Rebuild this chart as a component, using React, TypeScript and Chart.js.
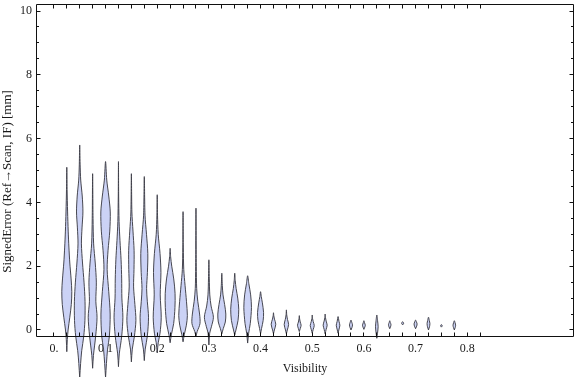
import React, { useEffect, useRef } from "react";
import { Chart, registerables } from "chart.js";

Chart.register(...registerables);

// Violin centres (Visibility)
const visibility = [
  0.025, 0.05, 0.075, 0.1, 0.125, 0.15, 0.175, 0.2, 0.225, 0.25, 0.275, 0.3,
  0.325, 0.35, 0.375, 0.4, 0.425, 0.45, 0.475, 0.5, 0.525, 0.55, 0.575, 0.6,
  0.625, 0.65, 0.675, 0.7, 0.725, 0.75, 0.775,
];

// Density profiles: [SignedError, relative density half-width], bottom -> top
const v025 = [[-0.68, 0], [-0.3, 0.5], [0, 1.3], [0.4, 3], [0.8, 4.5], [1.2, 5], [1.6, 4.3], [2.1, 3], [2.6, 2.1], [3.1, 1.4], [3.7, 0.8], [4.4, 0.3], [5.1, 0]];
const v050 = [[-1.5, 0], [-1.05, 0.9], [-0.65, 2], [-0.2, 4], [0.3, 5.2], [0.9, 5.3], [1.5, 4.3], [2.1, 2.8], [2.7, 1.7], [3.2, 2.3], [3.7, 3.2], [4.2, 2.5], [4.7, 1.0], [5.2, 0.4], [5.8, 0]];
const v075 = [[-1.2, 0], [-0.8, 0.8], [-0.2, 3], [0.4, 4.4], [0.9, 3.2], [1.5, 3.7], [2.1, 2.6], [2.7, 1.0], [3.5, 0.4], [4.9, 0]];
const v100 = [[-1.5, 0], [-1.05, 0.9], [-0.6, 2], [-0.2, 3.8], [0.5, 4.6], [1.2, 3.2], [1.9, 1.6], [2.5, 2.5], [3.1, 4.2], [3.7, 4.7], [4.2, 3.2], [4.7, 1.2], [5.28, 0]];
const v125 = [[-1.15, 0], [-0.75, 0.8], [-0.2, 3.2], [0.4, 4.4], [1.0, 3.4], [1.6, 3.2], [2.2, 2.6], [2.8, 1.5], [3.4, 0.6], [4.2, 0.2], [5.28, 0]];
const v150 = [[-1.0, 0], [-0.6, 0.9], [-0.2, 3], [0.3, 4.5], [0.8, 3.5], [1.35, 2.2], [1.9, 2.6], [2.5, 2.7], [3.1, 1.6], [3.7, 0.5], [4.9, 0]];
const v175 = [[-0.96, 0], [-0.6, 0.9], [-0.2, 3], [0.4, 4.2], [0.9, 3.0], [1.3, 2.3], [1.8, 3.1], [2.4, 3.5], [3.0, 2.2], [3.6, 0.7], [4.81, 0]];
const v200 = [[-0.72, 0], [-0.4, 1], [-0.1, 2.8], [0.4, 4.0], [1.1, 3.0], [1.8, 3.7], [2.4, 2.8], [3.0, 1.0], [3.6, 0.3], [4.24, 0]];
const v225 = [[-0.4, 0], [-0.15, 1.2], [0.2, 3.5], [0.7, 4.8], [1.15, 4.9], [1.6, 3.6], [2.0, 1.6], [2.3, 0.5], [2.56, 0]];
const v250 = [[-0.37, 0], [-0.15, 1.2], [0.15, 3.3], [0.45, 4.3], [0.9, 3.4], [1.4, 2], [1.9, 0.7], [2.6, 0.25], [3.71, 0]];
const v275 = [[-0.2, 0], [-0.05, 1.2], [0.2, 4.0], [0.5, 3.6], [0.9, 1.8], [1.3, 0.7], [2.0, 0.3], [3.82, 0]];
const v300 = [[-0.47, 0], [-0.1, 0.8], [0.1, 2.5], [0.4, 4.5], [0.75, 2.2], [1.1, 0.9], [1.6, 0.4], [2.2, 0]];
const v325 = [[-0.12, 0], [0.05, 1.5], [0.25, 3.5], [0.5, 4], [0.8, 2.8], [1.1, 1.2], [1.4, 0.5], [1.78, 0]];
const v350 = [[-0.16, 0], [0.0, 1.2], [0.3, 3.3], [0.65, 4], [1.0, 3], [1.3, 1.4], [1.55, 0.5], [1.78, 0]];
const v375 = [[-0.41, 0], [-0.1, 1], [0.2, 2.6], [0.7, 3.8], [1.1, 3.0], [1.45, 1.2], [1.7, 0]];
const v400 = [[-0.12, 0], [0.05, 1], [0.3, 2.6], [0.55, 3], [0.85, 1.8], [1.05, 0.7], [1.2, 0]];
const v425 = [[-0.12, 0], [0.0, 0.9], [0.18, 2.3], [0.34, 1.0], [0.45, 0.3], [0.54, 0]];
const v450 = [[-0.12, 0], [0.0, 0.9], [0.17, 2.2], [0.33, 1.1], [0.48, 0.3], [0.63, 0]];
const v475 = [[-0.05, 0], [0.05, 1], [0.15, 1.8], [0.25, 0.9], [0.35, 0.3], [0.45, 0]];
const v500 = [[-0.1, 0], [0.02, 1], [0.14, 2], [0.26, 1], [0.36, 0.3], [0.47, 0]];
const v525 = [[-0.12, 0], [0.02, 1], [0.15, 2], [0.28, 1], [0.39, 0.3], [0.5, 0]];
const v550 = [[-0.1, 0], [0.03, 1], [0.15, 1.8], [0.27, 0.9], [0.42, 0]];
const v575 = [[0.0, 0], [0.08, 1], [0.16, 1.5], [0.24, 0.8], [0.31, 0]];
const v600 = [[0.02, 0], [0.09, 0.9], [0.15, 1.4], [0.22, 0.7], [0.29, 0]];
const v625 = [[-0.26, 0], [-0.1, 0.7], [0.1, 1.3], [0.28, 0.8], [0.47, 0]];
const v650 = [[0.04, 0], [0.12, 1.0], [0.18, 1.2], [0.23, 0.6], [0.29, 0]];
const v675 = [[0.16, 0], [0.21, 1.0], [0.26, 0]];
const v700 = [[0.04, 0], [0.12, 1.1], [0.19, 1.5], [0.25, 0.9], [0.31, 0]];
const v725 = [[0.0, 0], [0.1, 1.0], [0.2, 1.4], [0.3, 0.8], [0.4, 0]];
const v750 = [[0.09, 0], [0.13, 0.8], [0.17, 0]];
const v775 = [[0.0, 0], [0.08, 0.9], [0.15, 1.3], [0.22, 0.8], [0.29, 0]];

const profiles = [
  v025, v050, v075, v100, v125, v150, v175, v200, v225, v250, v275, v300,
  v325, v350, v375, v400, v425, v450, v475, v500, v525, v550, v575, v600,
  v625, v650, v675, v700, v725, v750, v775,
];

// Axes
const xTickValues = [0, 0.1, 0.2, 0.3, 0.4, 0.5, 0.6, 0.7, 0.8];
const xTickLabels = ["0.", "0.1", "0.2", "0.3", "0.4", "0.5", "0.6", "0.7", "0.8"];
const xTickMarks = [
  0, 0.025, 0.05, 0.075, 0.1, 0.125, 0.15, 0.175, 0.2, 0.225, 0.25, 0.275, 0.3,
  0.325, 0.35, 0.375, 0.4, 0.425, 0.45, 0.475, 0.5, 0.525, 0.55, 0.575, 0.6,
  0.625, 0.65, 0.675, 0.7, 0.725, 0.75, 0.775, 0.8, 0.825,
];
const yTickValues = [0, 2, 4, 6, 8, 10];
const yTickLabels = ["0", "2", "4", "6", "8", "10"];
const yMinorTicks = [
  0.5, 1, 1.5, 2.5, 3, 3.5, 4.5, 5, 5.5, 6.5, 7, 7.5, 8.5, 9, 9.5,
];

const X_MIN = -0.0346;
const X_MAX = 1.0066;
const Y_MIN = -0.22;
const Y_MAX = 10.22;
const WIDTH_SCALE = 0.00194; // visibility units per density unit

const FONT = '"Liberation Serif", "Times New Roman", serif';
const TEXT = "#1a1a1a";
const FILL = "rgb(203,210,245)";
const EDGE = "rgba(62,62,72,0.95)";

function outline(cx: number, prof: number[][]) {
  const right = prof.map(([y, w]) => ({ x: cx + w * WIDTH_SCALE, y }));
  const left = prof
    .slice(0, -1)
    .reverse()
    .map(([y, w]) => ({ x: cx - w * WIDTH_SCALE, y }));
  return right.concat(left);
}

const violinFill = {
  id: "violinFill",
  beforeDatasetDraw(chart: any, args: any) {
    const line = args.meta && args.meta.dataset;
    if (!line || !line.points || !line.points.length) return;
    const ctx = chart.ctx;
    if (line.updateControlPoints) line.updateControlPoints(chart.chartArea, "x");
    ctx.save();
    ctx.beginPath();
    line.path(ctx);
    ctx.closePath();
    ctx.fillStyle = FILL;
    ctx.fill();
    ctx.restore();
  },
};

const framePlugin = {
  id: "frame",
  afterDatasetsDraw(chart: any) {
    const { ctx, chartArea, scales } = chart;
    const { left, right, top, bottom } = chartArea;
    const L = left + 0.5, R = right - 0.5, T = top + 0.5, B = bottom - 0.5;
    ctx.save();
    ctx.strokeStyle = "#111";
    ctx.lineWidth = 1;
    ctx.beginPath();
    ctx.rect(L, T, R - L, B - T);
    ctx.stroke();
    ctx.beginPath();
    for (const v of xTickMarks) {
      const px = Math.floor(scales.x.getPixelForValue(v)) + 0.5;
      ctx.moveTo(px, B);
      ctx.lineTo(px, B - 4);
      ctx.moveTo(px, T);
      ctx.lineTo(px, T + 4);
    }
    for (const v of yTickValues) {
      const py = Math.floor(scales.y.getPixelForValue(v)) + 0.5;
      ctx.moveTo(L, py);
      ctx.lineTo(L + 4, py);
      ctx.moveTo(R, py);
      ctx.lineTo(R - 4, py);
    }
    for (const v of yMinorTicks) {
      const py = Math.floor(scales.y.getPixelForValue(v)) + 0.5;
      ctx.moveTo(L, py);
      ctx.lineTo(L + 2.5, py);
      ctx.moveTo(R, py);
      ctx.lineTo(R - 2.5, py);
    }
    ctx.stroke();
    ctx.restore();
  },
  afterDraw(chart: any) {
    const ctx = chart.ctx;
    ctx.save();
    ctx.translate(7.5, 181.5);
    ctx.rotate(-Math.PI / 2);
    ctx.font = `13px ${FONT}`;
    ctx.fillStyle = TEXT;
    ctx.textAlign = "center";
    ctx.textBaseline = "middle";
    ctx.fillText("SignedError (Ref\u2192Scan, IF) [mm]", 0, 0);
    ctx.restore();
  },
};

export default function App() {
  const ref = useRef<HTMLCanvasElement | null>(null);

  useEffect(() => {
    if (!ref.current) return;
    const datasets = visibility.map((cx, i) => ({
      data: outline(cx, profiles[i]),
      borderColor: EDGE,
      backgroundColor: FILL,
      borderWidth: 1,
      fill: false,
      tension: 0.3,
      capBezierPoints: false,
      pointRadius: 0,
      pointHoverRadius: 0,
      pointHitRadius: 0,
      clip: false as any,
    }));
    const chart = new Chart(ref.current, {
      type: "line",
      data: { datasets } as any,
      options: {
        animation: false,
        responsive: true,
        maintainAspectRatio: false,
        events: [],
        layout: { padding: { left: 0, right: 2, top: 4, bottom: 0 } },
        plugins: {
          legend: { display: false },
          tooltip: { enabled: false },
        },
        scales: {
          x: {
            type: "linear",
            min: X_MIN,
            max: X_MAX,
            grid: { display: false, drawTicks: false },
            border: { display: false },
            afterBuildTicks: (s: any) => {
              s.ticks = xTickValues.map((v) => ({ value: v }));
            },
            afterFit: (s: any) => {
              s.height = 40;
              s.paddingLeft = 0;
              s.paddingRight = 0;
            },
            ticks: {
              autoSkip: false,
              maxRotation: 0,
              padding: 5,
              color: TEXT,
              font: { family: FONT, size: 12 },
              callback: (_v: any, i: number) => xTickLabels[i],
            },
            title: {
              display: true,
              text: "Visibility",
              color: TEXT,
              font: { family: FONT, size: 12 },
              padding: { top: 0, bottom: 1 },
            },
          },
          y: {
            type: "linear",
            min: Y_MIN,
            max: Y_MAX,
            grid: { display: false, drawTicks: false },
            border: { display: false },
            afterBuildTicks: (s: any) => {
              s.ticks = yTickValues.map((v) => ({ value: v }));
            },
            afterFit: (s: any) => {
              s.width = 36;
              s.paddingTop = 0;
              s.paddingBottom = 0;
            },
            ticks: {
              autoSkip: false,
              padding: 4,
              color: TEXT,
              font: { family: FONT, size: 12 },
              callback: (_v: any, i: number) => yTickLabels[i],
            },
          },
        },
      } as any,
      plugins: [violinFill, framePlugin],
    });
    return () => chart.destroy();
  }, []);

  return (
    <div style={{ position: "absolute", left: 0, top: 0, width: 576, height: 377 }}>
      <canvas ref={ref} />
    </div>
  );
}
